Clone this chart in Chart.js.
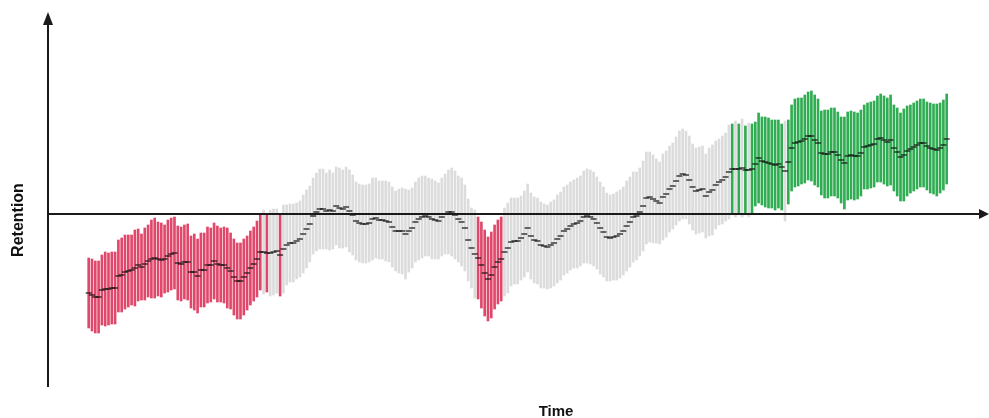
<!DOCTYPE html>
<html>
<head>
<meta charset="utf-8">
<title>Retention over time</title>
<script src="https://cdn.jsdelivr.net/npm/chart.js@4.4.1/dist/chart.umd.min.js"></script>
<style>
  html, body { margin: 0; padding: 0; background: #fff; }
  #wrap { width: 989px; height: 418px; }
</style>
</head>
<body>
<div id="wrap"><canvas id="chart" width="989" height="418"></canvas></div>
<script>
// mean retention per time step (axis units, 0 = the horizontal axis)
const meanRetention = [
  -0.79,-0.81,-0.83,-0.83,-0.76,-0.75,-0.75,-0.74,-0.74,-0.62,
  -0.61,-0.58,-0.57,-0.56,-0.54,-0.51,-0.53,-0.50,-0.47,-0.45,
  -0.44,-0.45,-0.46,-0.45,-0.42,-0.40,-0.39,-0.49,-0.50,-0.48,
  -0.48,-0.58,-0.58,-0.62,-0.56,-0.56,-0.51,-0.51,-0.47,-0.50,
  -0.51,-0.51,-0.54,-0.57,-0.63,-0.67,-0.67,-0.63,-0.59,-0.54,
  -0.50,-0.45,-0.38,-0.38,-0.39,-0.39,-0.38,-0.37,-0.41,-0.35,
  -0.31,-0.29,-0.29,-0.27,-0.25,-0.20,-0.15,-0.10,-0.02,0.02,
  0.05,0.05,0.03,0.04,0.03,0.08,0.06,0.05,0.07,0.03,
  -0.01,-0.07,-0.09,-0.10,-0.10,-0.09,-0.05,-0.04,-0.06,-0.06,
  -0.07,-0.08,-0.13,-0.17,-0.17,-0.17,-0.20,-0.17,-0.14,-0.08,
  -0.05,-0.03,-0.02,-0.03,-0.05,-0.06,-0.07,-0.03,0.00,0.02,
  0.02,-0.01,-0.05,-0.08,-0.14,-0.26,-0.34,-0.40,-0.44,-0.51,
  -0.59,-0.65,-0.61,-0.53,-0.48,-0.45,-0.38,-0.34,-0.28,-0.27,
  -0.27,-0.24,-0.20,-0.14,-0.22,-0.26,-0.27,-0.31,-0.32,-0.33,
  -0.31,-0.29,-0.25,-0.22,-0.17,-0.15,-0.12,-0.10,-0.09,-0.07,
  -0.03,-0.02,-0.03,-0.05,-0.09,-0.14,-0.18,-0.23,-0.24,-0.23,
  -0.22,-0.20,-0.17,-0.12,-0.08,-0.03,-0.02,0.02,0.08,0.16,
  0.17,0.15,0.13,0.11,0.17,0.20,0.25,0.28,0.33,0.38,
  0.40,0.39,0.34,0.27,0.23,0.24,0.25,0.18,0.22,0.24,
  0.29,0.32,0.34,0.37,0.42,0.45,0.45,0.45,0.46,0.44,
  0.44,0.45,0.50,0.56,0.53,0.52,0.51,0.50,0.49,0.50,
  0.47,0.43,0.52,0.66,0.71,0.72,0.73,0.75,0.78,0.78,
  0.74,0.71,0.61,0.60,0.60,0.62,0.62,0.59,0.54,0.51,
  0.58,0.59,0.58,0.58,0.61,0.67,0.68,0.69,0.70,0.75,
  0.76,0.74,0.72,0.74,0.66,0.62,0.57,0.59,0.63,0.65,
  0.67,0.69,0.71,0.71,0.68,0.66,0.65,0.64,0.66,0.69,
  0.75
];

// half width of the interval around each mean
const errRetention = [
  0.35,0.36,0.36,0.36,0.35,0.37,0.36,0.36,0.36,0.36,
  0.37,0.37,0.36,0.35,0.38,0.36,0.33,0.36,0.36,0.39,
  0.40,0.37,0.37,0.34,0.36,0.36,0.36,0.37,0.37,0.37,
  0.38,0.36,0.38,0.37,0.37,0.37,0.38,0.37,0.38,0.38,
  0.37,0.38,0.40,0.38,0.38,0.38,0.38,0.38,0.37,0.37,
  0.37,0.38,0.38,0.42,0.39,0.43,0.43,0.42,0.41,0.44,
  0.40,0.39,0.39,0.38,0.38,0.39,0.39,0.38,0.38,0.39,
  0.40,0.40,0.38,0.40,0.38,0.39,0.40,0.39,0.40,0.41,
  0.40,0.39,0.39,0.39,0.39,0.39,0.41,0.40,0.39,0.39,
  0.40,0.40,0.40,0.40,0.42,0.43,0.45,0.41,0.40,0.40,
  0.41,0.41,0.40,0.39,0.40,0.39,0.38,0.39,0.40,0.42,
  0.44,0.44,0.43,0.44,0.43,0.41,0.40,0.44,0.41,0.43,
  0.43,0.42,0.43,0.42,0.42,0.42,0.44,0.45,0.44,0.43,
  0.43,0.42,0.43,0.44,0.43,0.43,0.43,0.43,0.42,0.42,
  0.43,0.43,0.44,0.44,0.44,0.44,0.44,0.44,0.45,0.45,
  0.46,0.47,0.47,0.47,0.46,0.46,0.45,0.44,0.43,0.43,
  0.44,0.44,0.44,0.45,0.45,0.45,0.44,0.44,0.45,0.46,
  0.45,0.44,0.42,0.41,0.43,0.43,0.43,0.43,0.44,0.45,
  0.45,0.44,0.44,0.43,0.43,0.43,0.43,0.42,0.44,0.45,
  0.44,0.43,0.44,0.44,0.47,0.45,0.48,0.45,0.49,0.44,
  0.47,0.45,0.42,0.45,0.44,0.45,0.45,0.44,0.45,0.44,
  0.43,0.50,0.42,0.43,0.44,0.44,0.43,0.44,0.44,0.45,
  0.45,0.44,0.42,0.44,0.44,0.44,0.44,0.43,0.43,0.46,
  0.44,0.44,0.44,0.43,0.43,0.42,0.43,0.43,0.43,0.43,
  0.44,0.44,0.44,0.45,0.43,0.44,0.44,0.46,0.45,0.44,
  0.44,0.44,0.44,0.44,0.44,0.45,0.45,0.46,0.45,0.45,
  0.45
];

const timeSteps = meanRetention.map((_, i) => i);
const axisTitleY = 'Retention';
const axisTitleX = 'Time';

const RED = '#e0486b', GREEN = '#30ad52', GREY = '#dcdcdc', INK = '#1a1a1a';

// interval entirely below zero -> red, entirely above -> green, crossing -> grey
function intervalColor(i) {
  const lo = meanRetention[i] - errRetention[i], hi = meanRetention[i] + errRetention[i];
  if (hi <= 0) return RED;
  if (lo >= 0) return GREEN;
  return GREY;
}

const arrowAxes = {
  id: 'arrowAxes',
  afterDatasetsDraw(chart) {
    const { ctx, chartArea: a, scales } = chart;
    const y0 = scales.y.getPixelForValue(0);
    ctx.save();
    ctx.strokeStyle = INK;
    ctx.fillStyle = INK;
    ctx.lineWidth = 2;
    // vertical axis with arrow
    ctx.beginPath();
    ctx.moveTo(a.left, a.bottom);
    ctx.lineTo(a.left, a.top + 12);
    ctx.stroke();
    ctx.beginPath();
    ctx.moveTo(a.left, a.top);
    ctx.lineTo(a.left - 5, a.top + 13);
    ctx.lineTo(a.left + 5, a.top + 13);
    ctx.closePath();
    ctx.fill();
    // horizontal axis at zero with arrow
    ctx.beginPath();
    ctx.moveTo(a.left, y0);
    ctx.lineTo(a.right - 2, y0);
    ctx.stroke();
    ctx.beginPath();
    ctx.moveTo(a.right + 6, y0);
    ctx.lineTo(a.right - 4, y0 - 5);
    ctx.lineTo(a.right - 4, y0 + 5);
    ctx.closePath();
    ctx.fill();
    // axis titles
    ctx.fillStyle = '#111';
    ctx.textAlign = 'center';
    ctx.textBaseline = 'middle';
    ctx.font = 'bold 16px "Liberation Sans", Arial, sans-serif';
    ctx.translate(a.left - 29, 220);
    ctx.rotate(-Math.PI / 2);
    ctx.fillText(axisTitleY, 0, 0);
    ctx.setTransform(1, 0, 0, 1, 0, 0);
    ctx.font = 'bold 15px "Liberation Sans", Arial, sans-serif';
    ctx.fillText(axisTitleX, 556, a.bottom + 25);
    ctx.restore();
  }
};

new Chart(document.getElementById('chart').getContext('2d'), {
  type: 'bar',
  data: {
    datasets: [
      {
        type: 'line',
        label: 'Mean',
        data: timeSteps.map(i => ({ x: i, y: meanRetention[i] })),
        showLine: false,
        pointStyle: 'line',
        pointRadius: 3,
        pointHoverRadius: 3,
        pointBorderWidth: 1.2,
        pointBorderColor: '#111',
        borderColor: '#111',
        order: 0
      },
      {
        type: 'bar',
        label: 'Interval',
        data: timeSteps.map(i => ({ x: i, y: [meanRetention[i] - errRetention[i], meanRetention[i] + errRetention[i]] })),
        backgroundColor: timeSteps.map(intervalColor),
        borderWidth: 0,
        barThickness: 2,
        grouped: false,
        order: 1
      }
    ]
  },
  options: {
    responsive: false,
    devicePixelRatio: 1,
    animation: false,
    layout: { padding: { left: 48, right: 6, top: 12, bottom: 31 } },
    plugins: { legend: { display: false }, tooltip: { enabled: false } },
    scales: {
      x: { type: 'linear', offset: false, min: -12.33, max: 271, display: false },
      y: { min: -1.73, max: 2.02, display: false }
    }
  },
  plugins: [arrowAxes]
});
</script>
</body>
</html>
